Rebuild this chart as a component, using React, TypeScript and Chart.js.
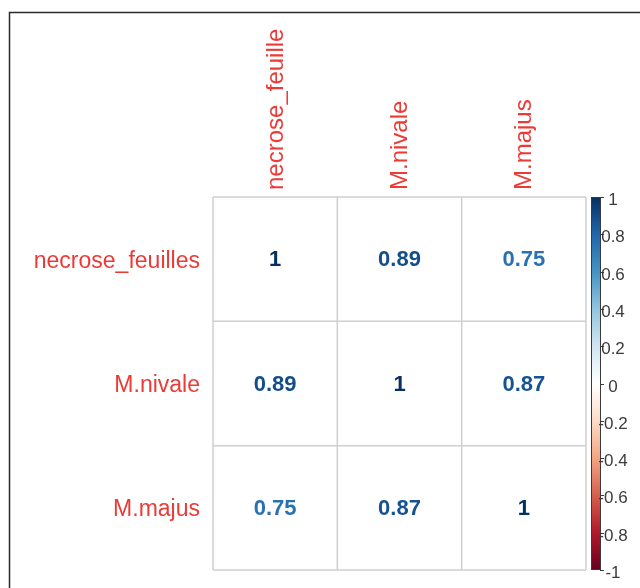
import React, { useEffect, useRef } from "react";
import { Chart, registerables } from "chart.js";

Chart.register(...registerables);

// Variables of the correlation matrix
const rowLabels = ["necrose_feuilles", "M.nivale", "M.majus"];
const colLabels = ["necrose_feuille", "M.nivale", "M.majus"];

// Correlation coefficients, one array per row
const rowNecrose = [1, 0.89, 0.75];
const rowNivale = [0.89, 1, 0.87];
const rowMajus = [0.75, 0.87, 1];
const matrixRows = [rowNecrose, rowNivale, rowMajus];

// Colour legend ticks
const legendTicks = [1, 0.8, 0.6, 0.4, 0.2, 0, -0.2, -0.4, -0.6, -0.8, -1];

// RdBu diverging palette, from -1 to 1
const palette = [
  "#67001F", "#B2182B", "#D6604D", "#F4A582", "#FDDBC7", "#FFFFFF",
  "#D1E5F0", "#92C5DE", "#4393C3", "#2166AC", "#053061",
];

function hexToRgb(h: string): number[] {
  const n = parseInt(h.slice(1), 16);
  return [(n >> 16) & 255, (n >> 8) & 255, n & 255];
}

function colorFor(v: number): string {
  const pos = ((v + 1) / 2) * (palette.length - 1);
  const i = Math.min(Math.floor(pos), palette.length - 2);
  const t = pos - i;
  const a = hexToRgb(palette[i]);
  const b = hexToRgb(palette[i + 1]);
  const c = a.map((x, k) => Math.round(x + (b[k] - x) * t));
  return `rgb(${c[0]},${c[1]},${c[2]})`;
}

const LABEL_RED = "#ec3a36";
const FONT = "'Liberation Sans', Arial, sans-serif";

const corrPlugin = {
  id: "corrMatrix",
  beforeDatasetsDraw(chart: any) {
    const { ctx, chartArea, scales } = chart;
    const xs = scales.x;
    const ys = scales.y;
    ctx.save();

    // frame around the figure
    ctx.strokeStyle = "#2a2a2a";
    ctx.lineWidth = 1.5;
    ctx.beginPath();
    ctx.moveTo(9.5, chart.height);
    ctx.lineTo(9.5, 12.5);
    ctx.lineTo(chart.width, 12.5);
    ctx.stroke();

    // cell grid
    ctx.strokeStyle = "#cfcfcf";
    ctx.lineWidth = 1.5;
    for (let k = 0; k <= colLabels.length; k++) {
      const x = xs.getPixelForValue(k - 0.5);
      ctx.beginPath();
      ctx.moveTo(x, chartArea.top);
      ctx.lineTo(x, chartArea.bottom);
      ctx.stroke();
    }
    for (let k = 0; k <= rowLabels.length; k++) {
      const y = ys.getPixelForValue(k - 0.5);
      ctx.beginPath();
      ctx.moveTo(chartArea.left, y);
      ctx.lineTo(chartArea.right, y);
      ctx.stroke();
    }
    ctx.restore();
  },
  afterDatasetsDraw(chart: any) {
    const { ctx, chartArea, scales } = chart;
    const xs = scales.x;
    const ys = scales.y;
    const cb = scales.cb;
    ctx.save();

    // coefficient values in the cells
    const meta = chart.getDatasetMeta(0);
    const raw = chart.data.datasets[0].data;
    ctx.font = `bold 22px ${FONT}`;
    ctx.textAlign = "center";
    ctx.textBaseline = "middle";
    meta.data.forEach((pt: any, i: number) => {
      const v = raw[i].v;
      ctx.fillStyle = colorFor(v);
      ctx.fillText(String(v), pt.x, pt.y + 1);
    });

    // row labels
    ctx.font = `23px ${FONT}`;
    ctx.fillStyle = LABEL_RED;
    ctx.textAlign = "right";
    rowLabels.forEach((lab, i) => {
      ctx.fillText(lab, chartArea.left - 13, ys.getPixelForValue(i) + 2);
    });

    // column labels, rotated
    ctx.font = `24px ${FONT}`;
    ctx.textAlign = "left";
    colLabels.forEach((lab, j) => {
      ctx.save();
      ctx.translate(xs.getPixelForValue(j) + 1, chartArea.top - 7);
      ctx.rotate(-Math.PI / 2);
      ctx.fillText(lab, 0, 0);
      ctx.restore();
    });

    // colour legend
    const barL = chartArea.right + 5;
    const barR = barL + 10;
    const top = cb.getPixelForValue(1);
    const bot = cb.getPixelForValue(-1);
    const grad = ctx.createLinearGradient(0, top, 0, bot);
    palette.forEach((c, i) => {
      grad.addColorStop(1 - i / (palette.length - 1), c);
    });
    ctx.fillStyle = grad;
    ctx.fillRect(barL, top, barR - barL, bot - top);
    ctx.strokeStyle = "#3a3a3a";
    ctx.lineWidth = 1;
    ctx.strokeRect(barL + 0.5, top + 0.5, barR - barL - 1, bot - top - 1);

    ctx.font = `17px ${FONT}`;
    ctx.fillStyle = "#3c3c3c";
    ctx.textAlign = "center";
    ctx.textBaseline = "middle";
    legendTicks.forEach((t) => {
      const y = Math.round(cb.getPixelForValue(t)) + 0.5;
      ctx.beginPath();
      ctx.moveTo(barR - 1, y);
      ctx.lineTo(barR + 3, y);
      ctx.stroke();
      ctx.fillText(String(t), barR + 12, y + 2.5);
    });

    ctx.restore();
  },
};

export default function App() {
  const ref = useRef<HTMLCanvasElement | null>(null);

  useEffect(() => {
    if (!ref.current) return;
    const points: { x: number; y: number; v: number }[] = [];
    matrixRows.forEach((row, i) =>
      row.forEach((v, j) => points.push({ x: j, y: i, v }))
    );
    const chart = new Chart(ref.current, {
      type: "scatter",
      data: {
        datasets: [
          {
            data: points as any,
            pointRadius: 0,
            pointHoverRadius: 0,
          },
        ],
      },
      options: {
        responsive: false,
        animation: false,
        events: [],
        layout: { padding: { left: 213, top: 197, right: 54, bottom: 18 } },
        plugins: { legend: { display: false }, tooltip: { enabled: false } },
        scales: {
          x: { type: "linear", min: -0.5, max: 2.5, display: false },
          y: { type: "linear", min: -0.5, max: 2.5, reverse: true, display: false },
          cb: { type: "linear", axis: "y", min: -1, max: 1, display: false },
        },
      },
      plugins: [corrPlugin],
    });
    return () => chart.destroy();
  }, []);

  return (
    <div style={{ position: "fixed", left: 0, top: 0, width: 640, height: 588, background: "#fff" }}>
      <canvas ref={ref} width={640} height={588} />
    </div>
  );
}
